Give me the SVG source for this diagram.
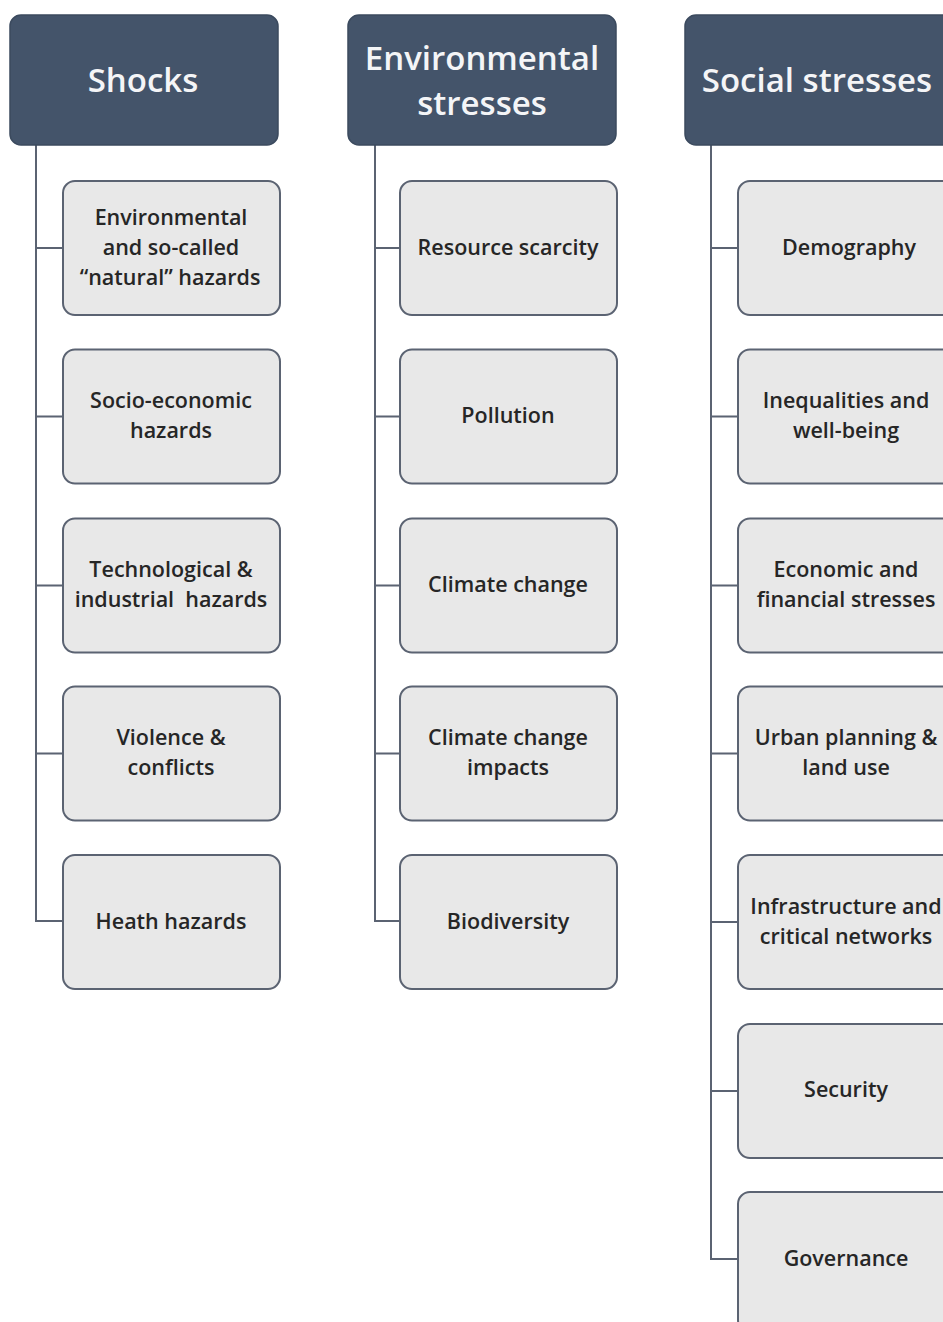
<svg xmlns="http://www.w3.org/2000/svg" width="943" height="1322" viewBox="0 0 943 1322">
<style>
.hdr{fill:#44546a;stroke:#3b4a5e;stroke-width:1.5}
.hdrt{fill:#f4f5f7;font-family:"Open Sans","Liberation Sans",sans-serif;font-size:33px;font-weight:600;text-anchor:middle}
.box{fill:#e8e8e8;stroke:#5b6372;stroke-width:2}
.bt{fill:#262626;font-family:"Open Sans","Liberation Sans",sans-serif;font-size:21.5px;font-weight:600;text-anchor:middle;white-space:pre}
.ln{fill:none;stroke:#5b6372;stroke-width:2}
</style>
<rect width="943" height="1322" fill="#ffffff"/>
<g id="connectors">
<path class="ln" d="M36,145 V921 H63 M36,248 H63 M36,416.5 H63 M36,585.5 H63 M36,753.5 H63"/>
<path class="ln" d="M375,145 V921 H400 M375,248 H400 M375,416.5 H400 M375,585.5 H400 M375,753.5 H400"/>
<path class="ln" d="M711,145 V1259 H738 M711,248 H738 M711,416.5 H738 M711,585.5 H738 M711,753.5 H738 M711,922 H738 M711,1091 H738"/>
</g>
<g id="shocks"><rect class="hdr" x="10" y="15" width="268" height="130" rx="11"/><text class="hdrt" x="143" y="92">Shocks</text></g>
<g id="env-stresses"><rect class="hdr" x="348" y="15" width="268" height="130" rx="11"/><text class="hdrt" x="482" y="70">Environmental</text><text class="hdrt" x="482" y="115">stresses</text></g>
<g id="social-stresses"><rect class="hdr" x="685" y="15" width="268" height="130" rx="11"/><text class="hdrt" x="817" y="92">Social stresses</text></g>

<g id="s1"><rect class="box" x="63" y="181" width="217" height="134" rx="12"/><text class="bt" x="171" y="225">Environmental</text><text class="bt" x="171" y="255">and so-called</text><text class="bt" x="170" y="285">“natural” hazards</text></g>
<g id="s2"><rect class="box" x="63" y="349.5" width="217" height="134" rx="12"/><text class="bt" x="171" y="408">Socio-economic</text><text class="bt" x="171" y="438">hazards</text></g>
<g id="s3"><rect class="box" x="63" y="518.5" width="217" height="134" rx="12"/><text class="bt" x="171" y="577">Technological &amp;</text><text class="bt" x="171" y="607" xml:space="preserve">industrial  hazards</text></g>
<g id="s4"><rect class="box" x="63" y="686.5" width="217" height="134" rx="12"/><text class="bt" x="171" y="745">Violence &amp;</text><text class="bt" x="171" y="775">conflicts</text></g>
<g id="s5"><rect class="box" x="63" y="855" width="217" height="134" rx="12"/><text class="bt" x="171" y="929">Heath hazards</text></g>

<g id="e1"><rect class="box" x="400" y="181" width="217" height="134" rx="12"/><text class="bt" x="508" y="255">Resource scarcity</text></g>
<g id="e2"><rect class="box" x="400" y="349.5" width="217" height="134" rx="12"/><text class="bt" x="508" y="423">Pollution</text></g>
<g id="e3"><rect class="box" x="400" y="518.5" width="217" height="134" rx="12"/><text class="bt" x="508" y="592">Climate change</text></g>
<g id="e4"><rect class="box" x="400" y="686.5" width="217" height="134" rx="12"/><text class="bt" x="508" y="745">Climate change</text><text class="bt" x="508" y="775">impacts</text></g>
<g id="e5"><rect class="box" x="400" y="855" width="217" height="134" rx="12"/><text class="bt" x="508" y="929">Biodiversity</text></g>

<g id="c1"><rect class="box" x="738" y="181" width="217" height="134" rx="12"/><text class="bt" x="849" y="255">Demography</text></g>
<g id="c2"><rect class="box" x="738" y="349.5" width="217" height="134" rx="12"/><text class="bt" x="846" y="408">Inequalities and</text><text class="bt" x="846" y="438">well-being</text></g>
<g id="c3"><rect class="box" x="738" y="518.5" width="217" height="134" rx="12"/><text class="bt" x="846" y="577">Economic and</text><text class="bt" x="846" y="607">financial stresses</text></g>
<g id="c4"><rect class="box" x="738" y="686.5" width="217" height="134" rx="12"/><text class="bt" x="846" y="745">Urban planning &amp;</text><text class="bt" x="846" y="775">land use</text></g>
<g id="c5"><rect class="box" x="738" y="855" width="217" height="134" rx="12"/><text class="bt" x="846" y="914">Infrastructure and</text><text class="bt" x="846" y="944">critical networks</text></g>
<g id="c6"><rect class="box" x="738" y="1024" width="217" height="134" rx="12"/><text class="bt" x="846" y="1097">Security</text></g>
<g id="c7"><rect class="box" x="738" y="1192" width="217" height="140" rx="12"/><text class="bt" x="846" y="1266">Governance</text></g>
</svg>
